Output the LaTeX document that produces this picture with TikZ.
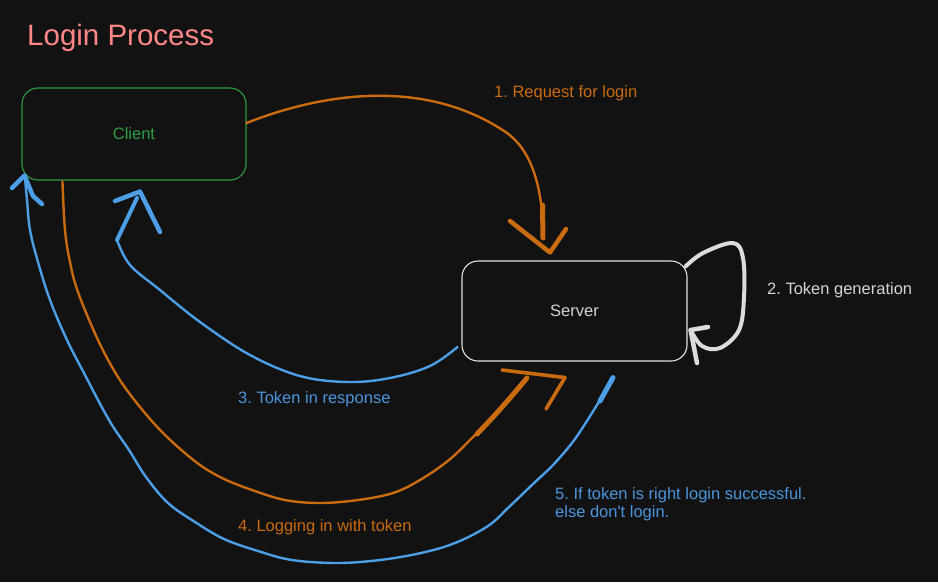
\documentclass[tikz,border=0pt]{standalone}
\usepackage{fontspec}
\setmainfont{Liberation Sans}
\frenchspacing
\definecolor{bgc}{HTML}{121212}
\definecolor{titlec}{HTML}{FF8787}
\definecolor{clientc}{HTML}{2F9E44}
\definecolor{serverc}{HTML}{E2E2E2}
\definecolor{servertext}{HTML}{D4D4D4}
\definecolor{orangec}{HTML}{C96B0E}
\definecolor{bluec}{HTML}{4C9FE6}
\definecolor{bluetext}{HTML}{4A95DC}
\definecolor{loopc}{HTML}{DCDCDC}
\begin{document}
\begin{tikzpicture}[x=1pt,y=-1pt,
  box/.style={draw, rounded corners=16pt, inner sep=0pt, line width=1.1pt,
    font=\fontsize{16.5}{19}\selectfont},
  lbl/.style={font=\fontsize{16.5}{19}\selectfont, anchor=base west, inner sep=0pt},
  wire/.style={line width=2.4pt, line cap=round, line join=round},
  brush/.style={line width=5pt, line cap=round, line join=round},
  head/.style={line width=4.5pt, line cap=round, line join=round},
]
\fill[bgc] (0,0) rectangle (938,582);
\useasboundingbox (0,0) rectangle (938,582);

% title
\node[lbl, font=\fontsize{29.5}{34}\selectfont, text=titlec] (title) at (27,45) {Login Process};

% nodes
\node[box, draw=clientc, text=clientc, minimum width=224pt, minimum height=92pt] (client) at (134,134) {\raisebox{-2.5pt}{Client}};
\node[box, draw=serverc, text=servertext, minimum width=225pt, minimum height=100pt] (server) at (574.5,311) {\raisebox{-1pt}{Server}};

% named end points
\coordinate (a1s) at ([yshift=11pt]client.east);
\coordinate (a1t) at ([shift={(-24.5pt,8pt)}]server.north);
\coordinate (s1) at ([shift={(-2pt,-6pt)}]server.north east);
\coordinate (s1t) at ([shift={(3pt,-19pt)}]server.east);
\coordinate (b3s) at ([shift={(-4pt,-36pt)}]server.west);
\coordinate (b3t) at ([shift={(6pt,-11pt)}]client.south);
\coordinate (b5s) at ([shift={(38.5pt,-16pt)}]server.south);
\coordinate (b5t) at ([shift={(3pt,5pt)}]client.south west);
\coordinate (o4s) at ([shift={(41pt,-1pt)}]client.south west);
\coordinate (o4t) at ([shift={(-9.5pt,-16pt)}]server.south);

% 1. request for login
\draw[wire, draw=orangec] (a1s) .. controls (330,90) and (430,80) .. (507,133)
   .. controls (533,152) and (543,190) .. (543,238);
\draw[brush, draw=orangec] (542.5,205) -- (543,238);
\draw[head, draw=orangec] (510,221) -- (a1t) -- (566,229);
\node[lbl, text=orangec] (l1) at (494,97) {1. Request for login};

% 2. token generation loop
\draw[line width=4pt, line cap=round, line join=round, draw=loopc] plot[smooth, tension=0.6] coordinates {(s1) (703,253) (733,243) (743,258) (744,297) (739,330) (720,348) (702,346) (s1t)};
\draw[head, draw=loopc] (708,327) -- (s1t) -- (697,363);
\node[lbl, text=servertext] (l2) at (767,294) {2. Token generation};

% 3. token in response
\draw[wire, draw=bluec] plot[smooth, tension=0.6] coordinates {(b3s) (430,366) (390,378) (348,382) (300,376) (250,355) (200,322) (160,290) (130,265) (117,240)};
\draw[line width=4pt, line cap=round, line join=round, draw=bluec] (117,240) -- (137,198);
\draw[head, draw=bluec] (115,201) -- (b3t) -- (160,232);
\node[lbl, text=bluetext] (l3) at (238,403) {3. Token in response};

% 4. logging in with token
\draw[wire, draw=orangec] plot[smooth, tension=0.6] coordinates {(o4s) (65,230) (70,262) (78,292) (98,340) (118,377) (140,407) (165,435) (196,462) (222,478) (252,490) (285,500) (320,503) (358,500) (393,493) (420,480) (449,460) (472,438) (494,416) (510,398) (527,378)};
\draw[brush, draw=orangec] plot[smooth, tension=0.6] coordinates {(477,434) (494,416) (510,398) (527,378)};
\draw[line width=3.6pt, line cap=round, line join=round, draw=orangec] (502,370) -- (o4t) -- (546,409);
\node[lbl, text=orangec] (l4) at (238,531) {4. Logging in with token};

% 5. if token is right
\draw[brush, draw=bluec] (b5s) -- (600,401);
\draw[wire, draw=bluec] plot[smooth, tension=0.6] coordinates {(b5s) (600,400) (585,424) (572,443) (553,465) (533,484) (510,506) (488,526) (455,543) (421,553) (380,560) (337,563) (292,560) (258,551) (224,539) (195,522) (168,503) (146,477) (129,450) (112,425) (98,400) (85,375) (67,340) (50,300) (38,262) (30,230) (27,200) (25,178)};
\draw[head, draw=bluec] (12,188) -- (b5t) -- (33,196) -- (42,204);
\node[lbl, text=bluetext, align=left, font=\fontsize{16.5}{18.5}\selectfont] (l5) at (555,517.5) {5. If token is right login successful.\\else don\textquotesingle t login.};
\end{tikzpicture}
\end{document}
